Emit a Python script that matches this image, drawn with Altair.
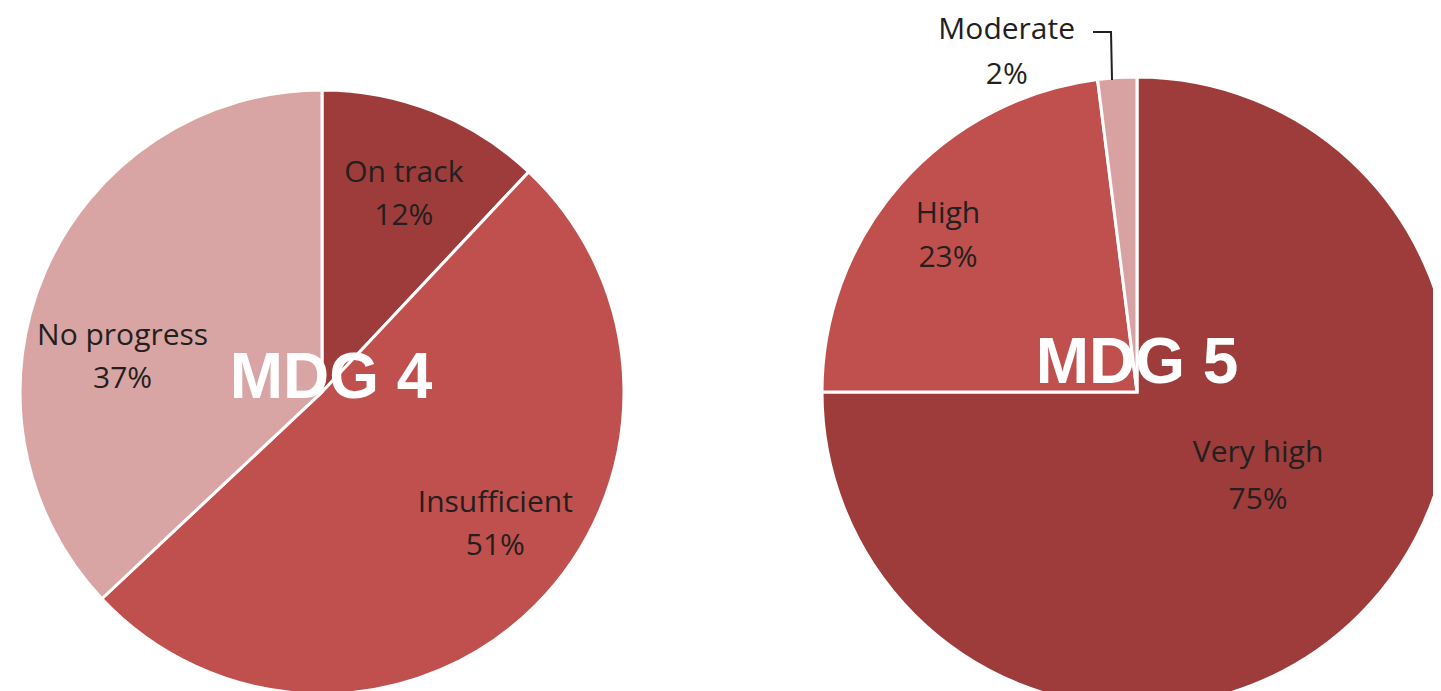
import altair as alt
import pandas as pd

# ---- data ----
mdg4_categories = ["On track", "Insufficient", "No progress"]
mdg4_values = [12, 51, 37]
mdg5_categories = ["Very high", "High", "Moderate"]
mdg5_values = [75, 23, 2]

all_categories = mdg4_categories + mdg5_categories
all_colors = ["#9D3C3A", "#C0504D", "#D9A5A4", "#9D3C3A", "#C0504D", "#D8A2A2"]

df4 = pd.DataFrame({"category": mdg4_categories, "value": mdg4_values,
                    "idx": list(range(len(mdg4_values)))})
df5 = pd.DataFrame({"category": mdg5_categories, "value": mdg5_values,
                    "idx": list(range(len(mdg5_values)))})

color_scale = alt.Scale(domain=all_categories, range=all_colors)

W, H = 1425, 683
# pie centres / radii (chart coordinates)
C4 = (314, 384, 302)
C5 = (1129, 384, 315)


def pie(df, c):
    cx, cy, r = c
    return alt.Chart(df).mark_arc(radius=r, stroke="white", strokeWidth=3).encode(
        theta=alt.Theta("value:Q", stack=True),
        order=alt.Order("idx:Q"),
        color=alt.Color("category:N", scale=color_scale, legend=None),
        x=alt.value(cx),
        y=alt.value(cy),
    )


def label(df, c, cat, radius, dx, dy, line_height):
    cx, cy, r = c
    return (
        alt.Chart(df)
        .transform_window(cum="sum(value)", sort=[alt.SortField("idx")], frame=[None, 0])
        .transform_calculate(mid="datum.cum - datum.value / 2",
                             label="datum.category + '\\n' + datum.value + '%'")
        .transform_filter(alt.datum.category == cat)
        .mark_text(radius=radius, dx=dx, dy=dy, fontSize=30, font="Open Sans",
                   lineBreak="\n", lineHeight=line_height, baseline="alphabetic",
                   align="center", color="#231F20")
        .encode(
            theta=alt.Theta("mid:Q", scale=alt.Scale(domain=[0, 100])),
            text="label:N",
            x=alt.value(cx),
            y=alt.value(cy),
        )
    )


def title(text, c, dx, dy):
    cx, cy, r = c
    return alt.Chart(pd.DataFrame({"t": [text]})).mark_text(
        font="Liberation Sans", fontWeight="bold", fontSize=64, color="white",
        align="center", baseline="alphabetic", dx=dx, dy=dy
    ).encode(text="t:N", x=alt.value(cx), y=alt.value(cy))


leader_df = pd.DataFrame({"k": [0]})
leader_h = alt.Chart(leader_df).mark_rule(color="#231F20", strokeWidth=2).encode(
    x=alt.value(1085), x2=alt.value(1104), y=alt.value(24))
leader_v = alt.Chart(leader_df).mark_rule(color="#231F20", strokeWidth=2).encode(
    x=alt.value(1103), x2=alt.value(1104), y=alt.value(24), y2=alt.value(72))

chart = alt.layer(
    pie(df4, C4),
    pie(df5, C5),
    label(df4, C4, "On track", 214, 3, -11, 43),
    label(df4, C4, "Insufficient", 214, 22, -31, 43),
    label(df4, C4, "No progress", 214, -3, 38, 43),
    label(df5, C5, "Very high", 150, 15, -36, 47),
    label(df5, C5, "High", 244, -6, -8, 44),
    label(df5, C5, "Moderate", 355, -108, 1, 45),
    leader_h,
    leader_v,
    title("MDG 4", C4, 9, 6),
    title("MDG 5", C5, 0, -9),
).resolve_scale(theta="independent").properties(
    width=W, height=H, padding=0, autosize=alt.AutoSizeParams(type="none"),
    background="white"
).configure_view(stroke=None)

chart.save("out.html", embed_options={"renderer": "svg", "actions": False})
